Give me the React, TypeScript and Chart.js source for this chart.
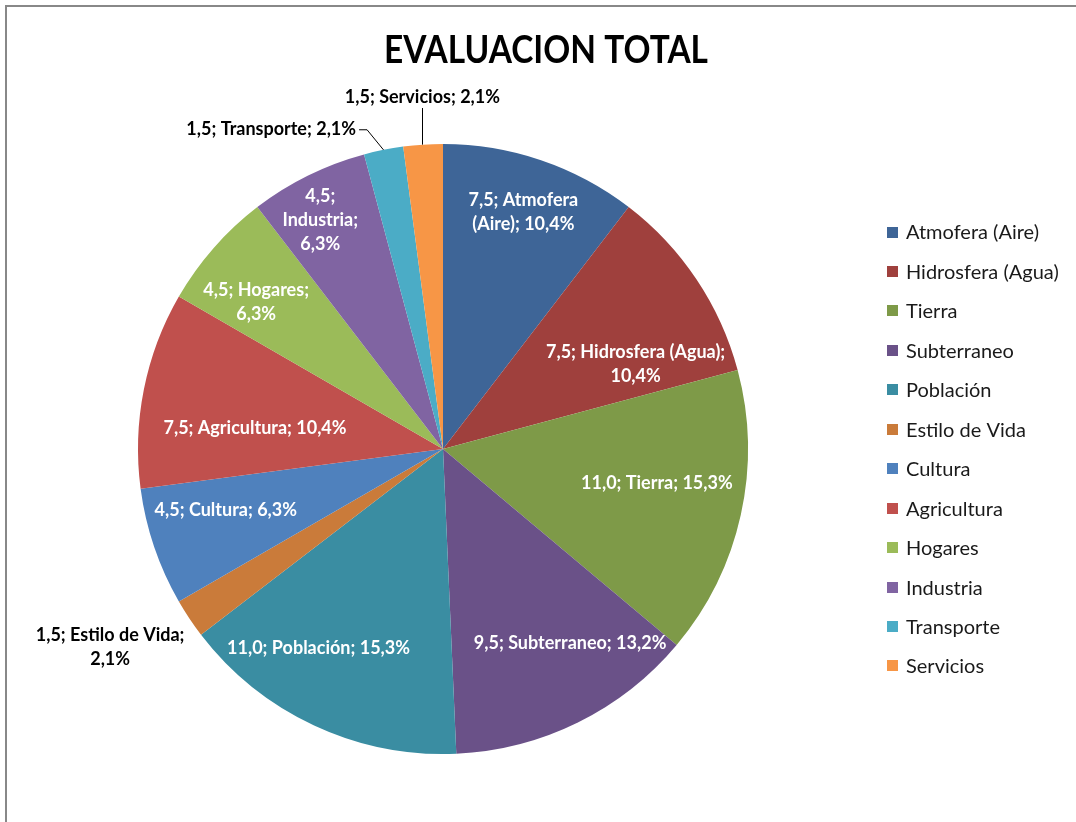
import React, { useEffect, useRef } from "react";
import { Chart, registerables } from "chart.js";

Chart.register(...registerables);

const categories = [
  "Atmofera (Aire)",
  "Hidrosfera (Agua)",
  "Tierra",
  "Subterraneo",
  "Población",
  "Estilo de Vida",
  "Cultura",
  "Agricultura",
  "Hogares",
  "Industria",
  "Transporte",
  "Servicios",
];
const values = [7.5, 7.5, 11.0, 9.5, 11.0, 1.5, 4.5, 7.5, 4.5, 4.5, 1.5, 1.5];
const colors = [
  "#3E6597",
  "#9F403D",
  "#7E9A48",
  "#6A5188",
  "#3A8DA2",
  "#CA7B3A",
  "#4F81BD",
  "#C0504D",
  "#9BBB59",
  "#8064A2",
  "#4BACC6",
  "#F79646",
];
const title = "EVALUACION TOTAL";

// label layout: angle offset from slice middle (deg), radial fraction, words per line, leader
const labelAngleOffset = [0, 10, -3.5, -7, 7, 3, 3, -5, -3, -2, -17, 0.4];
const labelRadius = [0.82, 0.69, 0.71, 0.76, 0.77, 1.27, 0.74, 0.62, 0.78, 0.85, 1.19, 1.156];
const labelWordsPerLine: number[][] = [
  [2, 2],
  [3, 1],
  [4],
  [3],
  [3],
  [4, 1],
  [3],
  [3],
  [2, 1],
  [1, 1, 1],
  [3],
  [3],
];
const labelLeader = ["", "", "", "", "", "", "", "", "", "", "side", "below"];

const LABEL_FONT = 'bold 18px Lato, "Open Sans", sans-serif';
const LEGEND_FONT = '20px Lato, "Open Sans", sans-serif';
const TITLE_FONT = 'bold 38px Lato, sans-serif';
const TITLE_WIDTH = 324;

function fmt(v: number, digits: number) {
  return v.toFixed(digits).replace(".", ",");
}

const customPlugin = {
  id: "excelLook",
  afterDatasetsDraw(chart: any) {
    const ctx: CanvasRenderingContext2D = chart.ctx;
    const meta = chart.getDatasetMeta(0);
    const total = values.reduce((a, b) => a + b, 0);
    ctx.save();
    ctx.font = LABEL_FONT;
    ctx.textAlign = "center";
    ctx.textBaseline = "middle";
    meta.data.forEach((arc: any, i: number) => {
      const { x, y, startAngle, endAngle, outerRadius } = arc.getProps(
        ["x", "y", "startAngle", "endAngle", "outerRadius"],
        true
      );
      const mid = (startAngle + endAngle) / 2;
      const a = mid + (labelAngleOffset[i] * Math.PI) / 180;
      const r = outerRadius * labelRadius[i];
      const cx = x + Math.cos(a) * r;
      const cy = y + Math.sin(a) * r;
      const text = `${fmt(values[i], 1)}; ${categories[i]}; ${fmt((values[i] / total) * 100, 1)}%`;
      const words = text.split(" ");
      const lines: string[] = [];
      let k = 0;
      for (const n of labelWordsPerLine[i]) {
        lines.push(words.slice(k, k + n).join(" "));
        k += n;
      }
      if (k < words.length) lines[lines.length - 1] += " " + words.slice(k).join(" ");
      const lh = 24;
      const inside = labelRadius[i] < 1;
      ctx.fillStyle = inside ? "#FFFFFF" : "#000000";
      lines.forEach((ln, j) => {
        ctx.fillText(ln, cx, cy + (j - (lines.length - 1) / 2) * lh);
      });
      const ex = x + Math.cos(mid) * outerRadius;
      const ey = y + Math.sin(mid) * outerRadius;
      if (labelLeader[i] === "side") {
        const w = ctx.measureText(lines[0]).width;
        const sx = cx + w / 2 + 3;
        ctx.strokeStyle = "#000";
        ctx.lineWidth = 1;
        ctx.beginPath();
        ctx.moveTo(sx, cy + 0.5);
        ctx.lineTo(sx + 8, cy + 0.5);
        ctx.lineTo(ex, ey);
        ctx.stroke();
      } else if (labelLeader[i] === "below") {
        ctx.strokeStyle = "#000";
        ctx.lineWidth = 1;
        ctx.beginPath();
        ctx.moveTo(Math.round(cx) + 0.5, cy + 11);
        ctx.lineTo(Math.round(cx) + 0.5, ey);
        ctx.stroke();
      }
    });

    // title, condensed to match the narrow original face
    ctx.font = TITLE_FONT;
    ctx.fillStyle = "#000";
    ctx.textAlign = "center";
    ctx.textBaseline = "alphabetic";
    const tw = ctx.measureText(title).width;
    const sx = Math.min(1, TITLE_WIDTH / tw);
    ctx.save();
    ctx.translate(546, 63);
    ctx.scale(sx, 1);
    ctx.fillText(title, 0, 0);
    ctx.restore();

    // legend
    ctx.font = LEGEND_FONT;
    ctx.textAlign = "left";
    ctx.textBaseline = "middle";
    categories.forEach((c, i) => {
      const yy = 232 + i * 39.45;
      ctx.fillStyle = colors[i];
      ctx.fillRect(887, Math.round(yy - 5.5), 11, 11);
      ctx.fillStyle = "#1A1A1A";
      ctx.fillText(c, 906, yy + 1);
    });
    ctx.restore();
  },
};

export default function App() {
  const ref = useRef<HTMLCanvasElement | null>(null);
  useEffect(() => {
    if (!ref.current) return;
    const chart = new Chart(ref.current, {
      type: "pie",
      data: {
        labels: categories,
        datasets: [
          {
            data: values,
            backgroundColor: colors,
            borderWidth: 0,
          },
        ],
      },
      options: {
        animation: false,
        responsive: false,
        devicePixelRatio: 1,
        layout: { padding: { left: 138, right: 328, top: 144, bottom: 68 } },
        plugins: {
          legend: { display: false },
          title: { display: false },
          tooltip: { enabled: false },
        },
      },
      plugins: [customPlugin],
    });
    return () => chart.destroy();
  }, []);
  return (
    <div style={{ position: "fixed", left: 0, top: 0, width: 1076, height: 822, background: "#fff" }}>
      <div
        style={{
          position: "absolute",
          left: 5,
          top: 5,
          width: 1100,
          height: 900,
          borderTop: "2px solid #888",
          borderLeft: "2px solid #888",
        }}
      />
      <canvas ref={ref} width={1076} height={822} style={{ position: "absolute", left: 0, top: 0 }} />
    </div>
  );
}
